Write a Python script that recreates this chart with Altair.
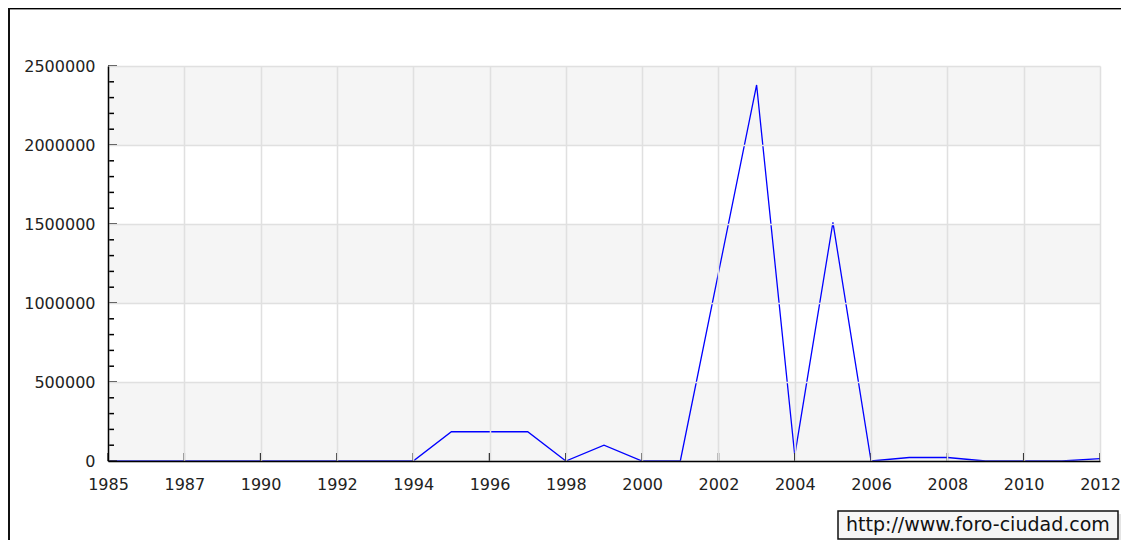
import altair as alt
import pandas as pd

# ---- data ----
years = ["1985", "1986", "1987", "1989", "1990", "1991", "1992", "1993", "1994",
         "1995", "1996", "1997", "1998", "1999", "2000", "2001", "2002", "2003",
         "2004", "2005", "2006", "2007", "2008", "2009", "2010", "2011", "2012"]
values = [0, 0, 0, 0, 0, 0, 0, 0, 0,
          185000, 185000, 185000, 0, 100000, 0, 0, 1190000, 2380000,
          35000, 1510000, 0, 22000, 22000, 0, 0, 0, 15000]
tick_labels = ["1985", "1987", "1990", "1992", "1994", "1996", "1998", "2000",
               "2002", "2004", "2006", "2008", "2010", "2012"]
y_major = [0, 500000, 1000000, 1500000, 2000000, 2500000]
y_minor = [100000, 200000, 300000, 400000, 600000, 700000, 800000, 900000,
           1100000, 1200000, 1300000, 1400000, 1600000, 1700000, 1800000, 1900000,
           2100000, 2200000, 2300000, 2400000]
band_lo = [0, 1000000, 2000000]
band_hi = [500000, 1500000, 2500000]
credit = ["http://www.foro-ciudad.com"]

W, H = 992, 395
PL, PT, PR, PB = 100, 58, 21, 79
FONT = "DejaVu Sans"

line_df = pd.DataFrame({"year": years, "value": values})
band_df = pd.DataFrame({"lo": band_lo, "hi": band_hi})
major_df = pd.DataFrame({"v": y_major})
minor_df = pd.DataFrame({"v": y_minor})
xt_df = pd.DataFrame({"year": tick_labels})
credit_df = pd.DataFrame({"t": credit})

xscale = alt.Scale(type="point", domain=years, padding=0)
yscale = alt.Scale(domain=[0, 2500000], nice=False, zero=True)

xaxis = alt.Axis(values=tick_labels, labelAngle=0, title=None, ticks=False,
                 domainColor="black", domainWidth=1.5, grid=True,
                 gridColor="#e0e0e0", gridWidth=1.5, labelFont=FONT,
                 labelFontSize=16, labelColor="#222222", labelPadding=15,
                 labelOverlap=False, zindex=1)
yaxis = alt.Axis(values=y_major, format="d", title=None, ticks=False,
                 domainColor="black", domainWidth=1.5, grid=True,
                 gridColor="#e0e0e0", gridWidth=1.5, labelFont=FONT,
                 labelFontSize=16, labelColor="#222222", labelPadding=13,
                 zindex=1)

bands = alt.Chart(band_df).mark_rect(color="#f5f5f5").encode(
    y=alt.Y("lo:Q", scale=yscale, axis=yaxis),
    y2="hi:Q",
    x=alt.value(0), x2=alt.value(W),
)

line = alt.Chart(line_df).mark_line(color="#0000ff", strokeWidth=1.3).encode(
    x=alt.X("year:N", scale=xscale, axis=xaxis, sort=years),
    y=alt.Y("value:Q", scale=yscale, axis=yaxis),
)

ymaj = alt.Chart(major_df).mark_rule(color="black", strokeWidth=1.5).encode(
    y=alt.Y("v:Q", scale=yscale, axis=yaxis),
    x=alt.value(0), x2=alt.value(9),
)
ymin = alt.Chart(minor_df).mark_rule(color="black", strokeWidth=1.5).encode(
    y=alt.Y("v:Q", scale=yscale, axis=yaxis),
    x=alt.value(0), x2=alt.value(6),
)
xt = alt.Chart(xt_df).mark_rule(color="black", strokeWidth=1.5).encode(
    x=alt.X("year:N", scale=xscale, axis=xaxis, sort=years),
    y=alt.value(H - 8), y2=alt.value(H),
)

shadow = alt.Chart(credit_df).mark_rect(color="#e4e4e4").encode(
    x=alt.value(733), x2=alt.value(1013), y=alt.value(448), y2=alt.value(476),
)
box = alt.Chart(credit_df).mark_rect(fill="#f6f6f6", stroke="#111111", strokeWidth=1.5).encode(
    x=alt.value(730), x2=alt.value(1010), y=alt.value(445), y2=alt.value(473),
)
ctext = alt.Chart(credit_df).mark_text(align="left", baseline="middle", font=FONT,
                                       fontSize=19, color="#111111").encode(
    x=alt.value(738), y=alt.value(459), text="t:N",
)

topbar = alt.Chart(credit_df).mark_rect(color="#000000").encode(
    x=alt.value(-PL), x2=alt.value(W + PR), y=alt.value(-PT), y2=alt.value(-PT + 1),
)
topline = alt.Chart(credit_df).mark_rect(color="#999999").encode(
    x=alt.value(-PL + 2), x2=alt.value(W + PR), y=alt.value(-PT + 1), y2=alt.value(-PT + 2),
)
leftbar = alt.Chart(credit_df).mark_rect(color="#111111").encode(
    x=alt.value(-PL), x2=alt.value(-PL + 2), y=alt.value(-PT), y2=alt.value(H + PB),
)

chart = alt.layer(
    bands, line, ymaj, ymin, xt, shadow, box, ctext, topbar, topline, leftbar
).properties(
    width=W, height=H,
    autosize=alt.AutoSizeParams(type="none"),
    padding={"left": PL, "top": PT, "right": PR, "bottom": PB},
    background="white",
).configure_view(stroke=None)

chart.save("out.html", embed_options={"renderer": "svg", "actions": False})
